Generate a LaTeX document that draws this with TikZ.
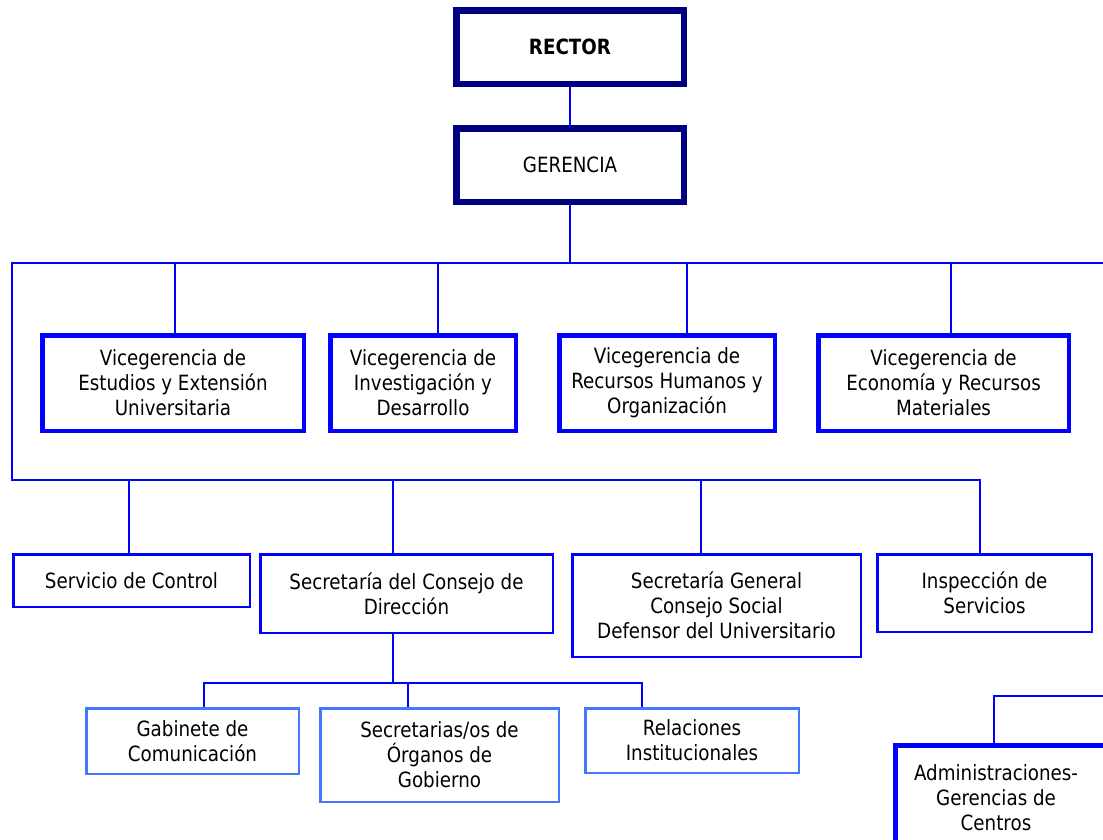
\documentclass[tikz,border=0pt]{standalone}
\usepackage{fontspec}
\setmainfont{DejaVu Sans}[FakeStretch=0.87]
\definecolor{navy}{RGB}{0,0,128}
\definecolor{ruleblue}{RGB}{0,0,255}
\definecolor{lightblue}{RGB}{70,120,255}
\begin{document}
\begin{tikzpicture}[x=1pt,y=-1pt,
  font=\fontsize{21}{25}\selectfont,
  box/.style={rectangle, align=center, inner sep=0pt},
  boss/.style={box, draw=navy, line width=6.5pt},
  vice/.style={box, draw=ruleblue, line width=4.5pt},
  unit/.style={box, draw=ruleblue, line width=2.5pt},
  subunit/.style={box, draw=lightblue, line width=2.5pt},
  conn/.style={draw=ruleblue, line width=2.2pt}]
\useasboundingbox (0,0) rectangle (1103,839);
\clip (0,0) rectangle (1103,839);

% top
\node[boss, minimum width=227.5pt, minimum height=73.5pt] (rector) at (570,47) {\bfseries RECTOR};
\node[boss, minimum width=227.5pt, minimum height=73.5pt] (ger) at (570,165) {GERENCIA};

% vicegerencias
\node[vice, minimum width=261.5pt, minimum height=95.5pt] (v1) at (173,383) {Vicegerencia de\\Estudios y Extensión\\Universitaria};
\node[vice, minimum width=185.5pt, minimum height=95.5pt] (v2) at (423,383) {Vicegerencia de\\Investigación y\\Desarrollo};
\node[vice, minimum width=215.5pt, minimum height=95.5pt] (v3) at (667,383) {Vicegerencia de\\Recursos Humanos y\\Organización};
\node[vice, minimum width=250.5pt, minimum height=95.5pt] (v4) at (943.5,383) {Vicegerencia de\\Economía y Recursos\\Materiales};

% second row
\node[unit, minimum width=236.5pt, minimum height=52.5pt] (s1) at (131.5,580.5) {Servicio de Control};
\node[unit, minimum width=292.5pt, minimum height=78.5pt] (s2) at (406.5,593.5) {Secretaría del Consejo de\\Dirección};
\node[unit, minimum width=288.5pt, minimum height=102.5pt] (s3) at (716.5,605.5) {Secretaría General\\Consejo Social\\Defensor del Universitario};
\node[unit, minimum width=214.5pt, minimum height=77.5pt] (s4) at (984.5,593) {Inspección de\\Servicios};

% third row
\node[subunit, minimum width=212.5pt, minimum height=65.5pt] (g1) at (192.5,741) {Gabinete de\\Comunicación};
\node[subunit, minimum width=238.5pt, minimum height=93.5pt] (g2) at (439.5,755) {Secretarias/os de\\Órganos de\\Gobierno};
\node[subunit, minimum width=213.5pt, minimum height=64.5pt] (g3) at (692,740.5) {Relaciones\\Institucionales};

% administraciones
\node[vice, minimum width=224.5pt, minimum height=104.5pt] (adm) at (1007.75,797.75) {};
\node[box] (admtext) at (996,798) {Administraciones-\\Gerencias de\\Centros};

% bus coordinates
\coordinate (tb) at (570,263);
\coordinate (rt) at (1110,263);
\coordinate (lt) at (12,263);
\coordinate (lb) at (12,480);
\coordinate (d1) at (175,263);
\coordinate (d2) at (438,263);
\coordinate (d3) at (687,263);
\coordinate (d4) at (951,263);
\coordinate (b1) at (129,480);
\coordinate (b2) at (393,480);
\coordinate (b3) at (701,480);
\coordinate (b4) at (980,480);
\coordinate (c0) at (393,683);
\coordinate (c1) at (204,683);
\coordinate (c2) at (408,683);
\coordinate (c3) at (642,683);
\coordinate (r0) at (1110,696);
\coordinate (r1) at (994,696);

% connectors
\draw[conn] (rector) -- (ger);
\draw[conn] (ger) -- (tb);
\draw[conn] (rt) -- (lt) -- (lb) -- (b4) -- (b4 |- s4.north);
\draw[conn] (d1) -- (d1 |- v1.north);
\draw[conn] (d2) -- (d2 |- v2.north);
\draw[conn] (d3) -- (d3 |- v3.north);
\draw[conn] (d4) -- (d4 |- v4.north);
\draw[conn] (b1) -- (b1 |- s1.north);
\draw[conn] (b2) -- (b2 |- s2.north);
\draw[conn] (b3) -- (b3 |- s3.north);
\draw[conn] (c0 |- s2.south) -- (c0);
\draw[conn] (c1 |- g1.north) -- (c1) -- (c3) -- (c3 |- g3.north);
\draw[conn] (c2) -- (c2 |- g2.north);
\draw[conn] (r0) -- (r1) -- (r1 |- adm.north);
\end{tikzpicture}
\end{document}
